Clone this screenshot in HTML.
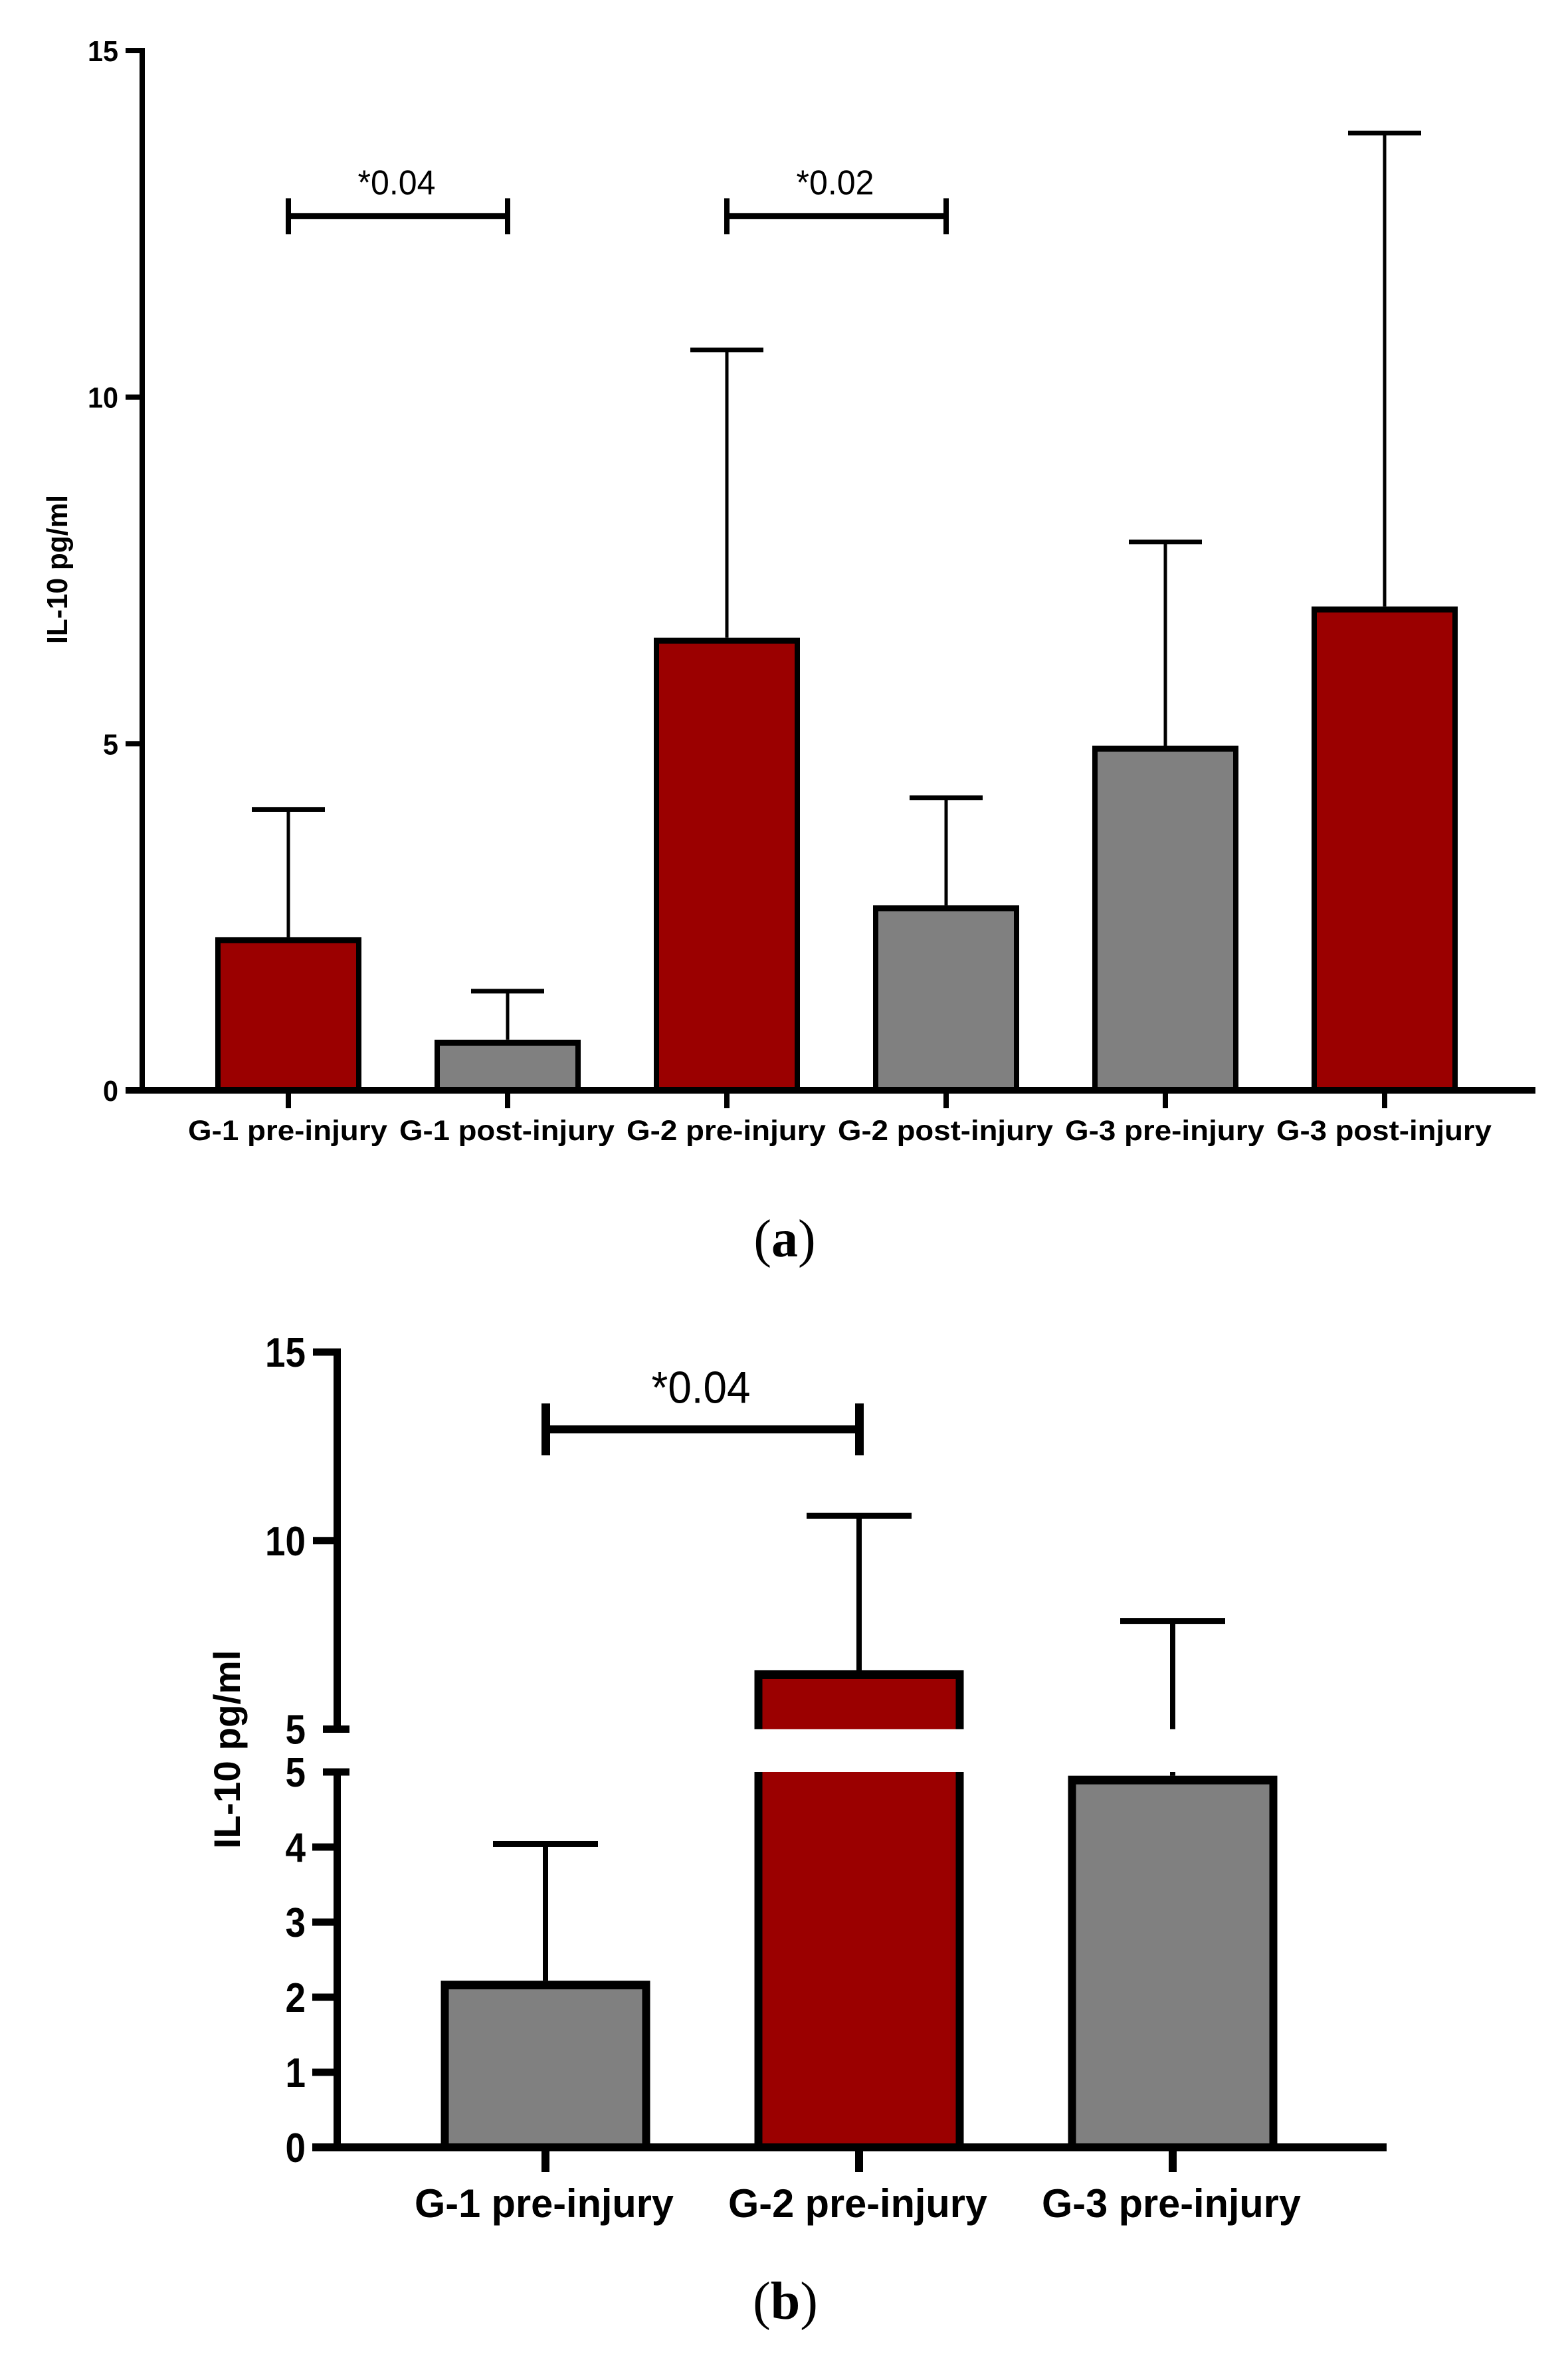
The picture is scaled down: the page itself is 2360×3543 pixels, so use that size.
<!DOCTYPE html>
<html lang="en">
<head>
<meta charset="utf-8">
<title>IL-10 pg/ml bar charts</title>
<style>
  html, body { margin: 0; padding: 0; background: #fff; }
  svg { display: block; }
  text { font-family: "Liberation Sans", sans-serif; fill: #000; }
</style>
</head>
<body>
<svg id="figure" xmlns="http://www.w3.org/2000/svg" width="2360" height="3543" viewBox="0 0 2360 3543">
  <rect width="2360" height="3543" fill="#ffffff"/>
  <g id="panel-a"></g>
  <g id="panel-b"></g>
  <text x="1181" y="1891" text-anchor="middle" font-size="80" style="font-family:'Liberation Serif',serif">(<tspan font-weight="bold">a</tspan>)</text>
  <text x="1182" y="3490" text-anchor="middle" font-size="80" style="font-family:'Liberation Serif',serif">(<tspan font-weight="bold">b</tspan>)</text>
</svg>
<script>
// ---- Panel A data ----
const categoriesA = ['G-1 pre-injury', 'G-1 post-injury', 'G-2 pre-injury', 'G-2 post-injury', 'G-3 pre-injury', 'G-3 post-injury'];
const meansA = [2.21, 0.73, 6.53, 2.67, 4.97, 6.98];
const errorTopsA = [4.05, 1.43, 10.68, 4.22, 7.91, 13.81];
const redCategoriesA = ['G-1 pre-injury', 'G-2 pre-injury', 'G-3 post-injury'];
const tickLabelsA = [0, 5, 10, 15];
const bracketFromA = [0, 2];
const bracketToA = [1, 3];
const bracketLevelsA = [12.61, 12.61];
const bracketTextA = ['*0.04', '*0.02'];

// ---- Panel B data ----
const categoriesB = ['G-1 pre-injury', 'G-2 pre-injury', 'G-3 pre-injury'];
const meansB = [2.22, 6.56, 4.95];
const errorTopsB = [4.04, 10.66, 7.87];
const redCategoriesB = ['G-2 pre-injury'];
const tickLabelsLowerB = [0, 1, 2, 3, 4, 5];
const tickLabelsUpperB = [5, 10, 15];
const bracketFromB = [0];
const bracketToB = [1];
const bracketLevelsB = [12.95];
const bracketTextB = ['*0.04'];

const SVG_NS = 'http://www.w3.org/2000/svg';
const RED = '#9b0000';
const GREY = '#808080';

function rect(parent, x, y, w, h, fill) {
  const el = document.createElementNS(SVG_NS, 'rect');
  el.setAttribute('x', x);
  el.setAttribute('y', y);
  el.setAttribute('width', w);
  el.setAttribute('height', h);
  el.setAttribute('fill', fill);
  parent.appendChild(el);
  return el;
}

function label(parent, x, y, str, size, weight, anchor, length) {
  const el = document.createElementNS(SVG_NS, 'text');
  el.setAttribute('x', x);
  el.setAttribute('y', y);
  el.setAttribute('font-size', size);
  el.setAttribute('font-weight', weight);
  el.setAttribute('text-anchor', anchor);
  if (length) {
    el.setAttribute('textLength', length);
    el.setAttribute('lengthAdjust', 'spacingAndGlyphs');
  }
  el.textContent = str;
  parent.appendChild(el);
  return el;
}

function group(parent, name) {
  const g = document.createElementNS(SVG_NS, 'g');
  
  
  parent.appendChild(g);
  return g;
}

/* ---------- PANEL A ---------- */
(function () {
  const root = document.getElementById('panel-a');
  const y = v => 1641 - v * 104.33;
  const x = i => 434 + i * 330;
  const barW = 220, side = 8, top = 9;

  categoriesA.forEach((cat, i) => {
    const g = group(root, 'bar-group-a-' + (i + 1));
    const cx = x(i);
    const stem = rect(g, cx - 2.5, y(errorTopsA[i]), 5, y(meansA[i]) - y(errorTopsA[i]), '#000');
    
    
    const cap = rect(g, cx - 55, y(errorTopsA[i]) - 3.5, 110, 7, '#000');
    
    
    const outer = rect(g, cx - barW / 2, y(meansA[i]), barW, y(0) - y(meansA[i]), '#000');
    
    
    const fill = redCategoriesA.includes(cat) ? RED : GREY;
    const inner = rect(g, cx - barW / 2 + side, y(meansA[i]) + top, barW - 2 * side, y(0) - y(meansA[i]) - top, fill);
    
    
    const tick = rect(g, cx - 4, y(0), 8, 27, '#000');
    
    
    const lengthPx = cat.includes('post') ? 324 : 300;
    const t = label(g, cx - 1, 1716, cat, 43, 'bold', 'middle', lengthPx);
    
    
  });

  const axis = rect(root, 210, y(15) - 4, 8, y(0) - y(15) + 4, '#000');
  
  
  const base = rect(root, 189, y(0) - 5, 2122, 10, '#000');
  
  

  tickLabelsA.forEach(v => {
    const tick = rect(root, 189, y(v) - 4, 25, 8, '#000');
    
    
    const s = String(v);
    const t = label(root, 178, y(v) + 16, s, 44, 'bold', 'end', s.length * 23);
    
    
  });

  bracketTextA.forEach((txt, k) => {
    const g = group(root, 'significance-bracket-a-' + (k + 1));
    const x1 = x(bracketFromA[k]), x2 = x(bracketToA[k]), by = y(bracketLevelsA[k]);
    rect(g, x1 - 4, by - 4.5, x2 - x1 + 8, 9, '#000');
    rect(g, x1 - 4, by - 27, 8, 54, '#000');
    rect(g, x2 - 4, by - 27, 8, 54, '#000');
    const t = label(g, (x1 + x2) / 2 - 2, by - 33, txt, 52, 'normal', 'middle', 117);
    
    
  });

  const title = label(root, 0, 0, 'IL-10 pg/ml', 44, 'bold', 'middle', 224);
  title.setAttribute('transform', 'translate(101 857) rotate(-90)');
  
  
})();

/* ---------- PANEL B ---------- */
(function () {
  const root = document.getElementById('panel-b');
  const yL = v => 3232 - v * 113;
  const yU = v => 2602.5 - (v - 5) * 56.75;
  const breakV = 5;
  const x = i => 821 + i * 472;
  const barW = 315, side = 12, top = 13;

  categoriesB.forEach((cat, i) => {
    const g = group(root, 'bar-group-b-' + (i + 1));
    const cx = x(i);
    const mean = meansB[i], err = errorTopsB[i];
    const fill = redCategoriesB.includes(cat) ? RED : GREY;

    // error bar, split over the axis break
    if (err > breakV) {
      const upperBottom = mean > breakV ? yU(mean) : yU(breakV);
      const s1 = rect(g, cx - 4, yU(err), 8, upperBottom - yU(err), '#000');
      
      
      if (mean <= breakV) {
        const s2 = rect(g, cx - 4, yL(breakV), 8, yL(mean) - yL(breakV), '#000');
        
        
      }
      const c = rect(g, cx - 79, yU(err) - 4.5, 158, 9, '#000');
      
      
    } else {
      const s = rect(g, cx - 4, yL(err), 8, yL(mean) - yL(err), '#000');
      
      
      const c = rect(g, cx - 79, yL(err) - 4.5, 158, 9, '#000');
      
      
    }

    // bar, split over the axis break
    if (mean > breakV) {
      const o1 = rect(g, cx - barW / 2, yU(mean), barW, yU(breakV) - yU(mean), '#000');
      
      
      const f1 = rect(g, cx - barW / 2 + side, yU(mean) + top, barW - 2 * side, yU(breakV) - yU(mean) - top, fill);
      
      
      const o2 = rect(g, cx - barW / 2, yL(breakV), barW, yL(0) - yL(breakV), '#000');
      
      
      const f2 = rect(g, cx - barW / 2 + side, yL(breakV), barW - 2 * side, yL(0) - yL(breakV), fill);
      
      
    } else {
      const o = rect(g, cx - barW / 2, yL(mean), barW, yL(0) - yL(mean), '#000');
      
      
      const f = rect(g, cx - barW / 2 + side, yL(mean) + top, barW - 2 * side, yL(0) - yL(mean) - top, fill);
      
      
    }

    const tick = rect(g, cx - 6, yL(0), 12, 37, '#000');
    
    
    const t = label(g, cx - 2, 3337, cat, 60, 'bold', 'middle', 390);
    
    
  });

  const axisU = rect(root, 502, yU(15) - 5, 11, yU(5) - yU(15) + 5, '#000');
  
  
  const axisL = rect(root, 502, yL(5) - 5, 11, yL(0) - yL(5) + 5, '#000');
  
  
  const base = rect(root, 470, yL(0) - 6, 1617, 12, '#000');
  
  

  tickLabelsUpperB.forEach(v => {
    const isBreak = v === breakV;
    const tick = rect(root, isBreak ? 486 : 471, yU(v) - 5.5, isBreak ? 40 : 42, 11, '#000');
    
    
    const s = String(v);
    const t = label(root, 460, yU(v) + 22, s, 62, 'bold', 'end', s.length * 30.5);
    
    
  });

  tickLabelsLowerB.forEach(v => {
    const isBreak = v === breakV;
    const tick = rect(root, isBreak ? 486 : 470, yL(v) - 5.5, isBreak ? 40 : 36, 11, '#000');
    
    
    const s = String(v);
    const t = label(root, 460, yL(v) + 22, s, 62, 'bold', 'end', s.length * 30.5);
    
    
  });

  bracketTextB.forEach((txt, k) => {
    const g = group(root, 'significance-bracket-b-' + (k + 1));
    const x1 = x(bracketFromB[k]), x2 = x(bracketToB[k]), by = yU(bracketLevelsB[k]);
    rect(g, x1 - 6, by - 6, x2 - x1 + 12, 12, '#000');
    rect(g, x1 - 6, by - 39, 13, 78, '#000');
    rect(g, x2 - 6, by - 39, 13, 78, '#000');
    const t = label(g, (x1 + x2) / 2 - 2, by - 40, txt, 68, 'normal', 'middle', 149);
    
    
  });

  const title = label(root, 0, 0, 'IL-10 pg/ml', 56, 'bold', 'middle', 299);
  title.setAttribute('transform', 'translate(361 2633) rotate(-90)');
  
  
})();
</script>
</body>
</html>
